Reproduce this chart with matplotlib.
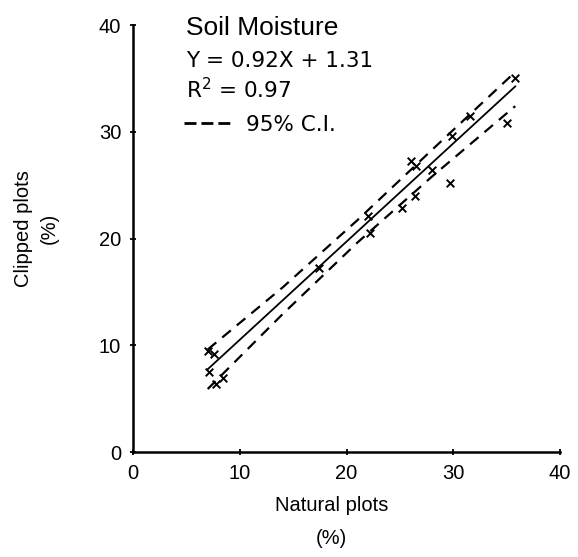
import matplotlib
matplotlib.use("Agg")
import matplotlib.pyplot as plt
from matplotlib.lines import Line2D

# natural vs clipped plot soil moisture (%)
natural = [7.0, 7.6, 7.1, 7.8, 8.4, 17.4, 22.0, 22.2, 25.2, 26.0, 26.5, 26.4,
           28.0, 29.7, 29.9, 31.6, 35.0, 35.8]
clipped = [9.5, 9.2, 7.5, 6.4, 6.9, 17.2, 22.1, 20.5, 22.9, 27.3, 26.8, 24.0,
           26.4, 25.2, 29.6, 31.5, 30.8, 35.0]

slope = 0.92
intercept = 1.31
fit_x = [7.0, 35.8]

# 95% confidence band
ci_x = [7.0, 14.0, 21.0, 28.0, 35.8]
ci_upper = [9.6, 15.4, 21.7, 28.3, 35.6]
ci_lower = [5.9, 12.9, 19.6, 25.8, 32.4]

xticks = [0, 10, 20, 30, 40]
yticks = [0, 10, 20, 30, 40]

plt.rcParams["font.family"] = ["Liberation Sans", "DejaVu Sans"]

fig = plt.figure(figsize=(5.78, 5.57), dpi=100)
ax = fig.add_axes([0.230, 0.1885, 0.739, 0.7666])

fit_y = [slope * x + intercept for x in fit_x]
ax.plot(fit_x, fit_y, color="black", lw=1.3)
ax.plot(ci_x, ci_upper, color="black", lw=1.6, dashes=(5, 3.5))
ax.plot(ci_x, ci_lower, color="black", lw=1.6, dashes=(5, 3.5))
ax.scatter(natural, clipped, marker="x", s=30, color="black", linewidths=1.4, zorder=3)

ax.set_xlim(0, 40)
ax.set_ylim(0, 40)
ax.set_xticks(xticks)
ax.set_yticks(yticks)
ax.tick_params(direction="inout", length=5, width=1.3, labelsize=14.5, pad=6)
for side in ["top", "right"]:
    ax.spines[side].set_visible(False)
for side in ["left", "bottom"]:
    ax.spines[side].set_linewidth(1.8)

# annotation block in the upper left
ax.text(0.125, 0.977, "Soil Moisture", transform=ax.transAxes, fontsize=19,
        va="baseline", ha="left")
eq_font = ["DejaVu Sans"]
ax.text(0.125, 0.902, "Y = 0.92X + 1.31", transform=ax.transAxes, fontsize=15.5,
        va="baseline", ha="left", family=eq_font)
ax.text(0.125, 0.829, "R$^2$ = 0.97", transform=ax.transAxes, fontsize=15.5,
        va="baseline", ha="left", family=eq_font)
handle = Line2D([], [], color="black", lw=2.0, dashes=(4.3, 1.8))
ax.legend([handle], ["95% C.I."], loc="upper left", bbox_to_anchor=(0.11, 0.80),
          frameon=False, handlelength=2.3, handletextpad=0.55,
          borderaxespad=0, borderpad=0.2,
          prop={"family": eq_font, "size": 15.5})

fig.text(0.063, 0.59, "Clipped plots\n(%)", rotation=90, ha="center", va="center",
         fontsize=14.5, linespacing=1.4)
fig.text(0.573, 0.063, "Natural plots\n(%)", ha="center", va="center",
         fontsize=14.5, linespacing=1.95)

fig.savefig("out.png", dpi=100)
